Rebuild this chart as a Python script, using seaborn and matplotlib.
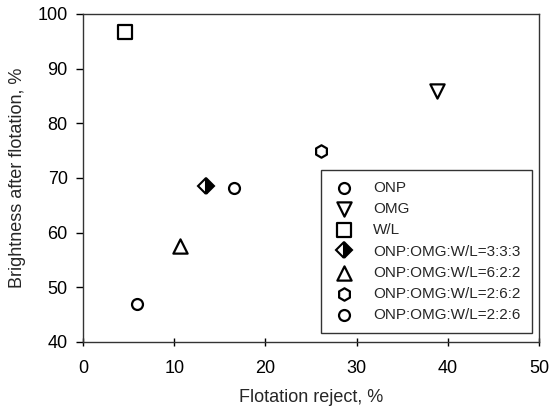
import matplotlib
matplotlib.use("Agg")
import matplotlib.pyplot as plt
import seaborn as sns

# data
labels = ["ONP", "OMG", "W/L", "ONP:OMG:W/L=3:3:3", "ONP:OMG:W/L=6:2:2",
          "ONP:OMG:W/L=2:6:2", "ONP:OMG:W/L=2:2:6"]
reject = [5.9, 38.8, 4.6, 13.5, 10.6, 26.1, 16.6]
brightness = [47.0, 85.9, 96.6, 68.5, 57.5, 75.0, 68.2]
markers = ["o", "v", "s", "D", "^", "h", "o"]

sns.set_style("white")
plt.rcParams["font.family"] = ["Liberation Sans", "DejaVu Sans"]

fig = plt.figure(figsize=(5.5, 4.09), dpi=100)
ax = fig.add_axes([0.151, 0.164, 0.829, 0.802])

sizes = {"o": 62, "v": 105, "s": 105, "^": 105, "h": 80}
for lab, x, y, m in zip(labels, reject, brightness, markers):
    if m == "D":
        # half filled diamond: left white, right black
        ax.plot([x], [y], linestyle="none", marker="D", markersize=8.5,
                markeredgecolor="black", markerfacecolor="black",
                markerfacecoloralt="white", fillstyle="right",
                markeredgewidth=1.5, label=lab, zorder=3)
    else:
        sns.scatterplot(x=[x], y=[y], marker=m, s=sizes[m], facecolor="white",
                        edgecolor="black", linewidth=1.6, ax=ax, label=lab,
                        zorder=3)

ax.set_xlim(0, 50)
ax.set_ylim(40, 100)
ax.set_xticks(range(0, 51, 10))
ax.set_yticks(range(40, 101, 10))
ax.set_xlabel("Flotation reject, %", fontsize=13, labelpad=9)
ax.set_ylabel("Brightness after flotation, %", fontsize=13, labelpad=8)
ax.tick_params(axis="x", direction="inout", length=6, width=1, labelsize=13,
               bottom=True, pad=10, colors="black")
ax.tick_params(axis="y", direction="out", length=5, width=1, labelsize=13,
               left=True, pad=6, colors="black")
for sp in ax.spines.values():
    sp.set_color("#333333")
    sp.set_linewidth(1)

leg = ax.legend(loc="lower right", bbox_to_anchor=(0.985, 0.027), fontsize=11,
                frameon=True, fancybox=False, edgecolor="black",
                handletextpad=1.1, labelspacing=0.46, borderpad=0.75,
                borderaxespad=0.0, handlelength=1.6)
leg.get_frame().set_linewidth(1)

fig.savefig("out.png", dpi=100)
